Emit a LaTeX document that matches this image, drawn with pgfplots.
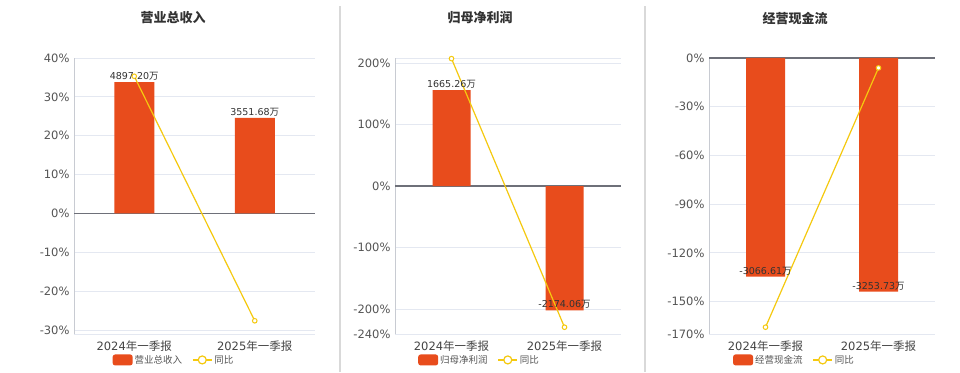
\documentclass[border=0pt]{standalone}
\usepackage{fontspec}
\setmainfont{DejaVu Sans}
\newfontfamily\cjk{Noto Sans CJK SC}
\usepackage{pgfplots}
\pgfplotsset{compat=1.18}
\definecolor{barc}{HTML}{E84C1C}
\definecolor{linec}{HTML}{F5C90F}
\definecolor{gridc}{HTML}{E4E8F1}
\definecolor{zeroc}{HTML}{6E7079}
\definecolor{tickc}{HTML}{555555}
\definecolor{ylinec}{HTML}{C8CBD2}
\definecolor{sepc}{HTML}{D9D9D9}
\newcommand\wan{{\cjk 万}}

\pgfplotsset{
 panel/.style={
   scale only axis, height=276pt, anchor=south west,
   xmin=-0.5, xmax=1.5, xtick={0,1},
   xticklabels={2024{\cjk 年一季报},2025{\cjk 年一季报}},
   major tick length=0pt,
   axis x line*=box, axis y line*=left,
   x axis line style={draw=gridc, line width=0.8pt, -},
   y axis line style={draw=ylinec, line width=0.8pt, -},
   ymajorgrids, grid style={draw=gridc, line width=0.8pt},
   extra y ticks={0}, extra y tick labels={},
   extra y tick style={grid style={draw=zeroc, line width=1.3pt}},
   yticklabel={\pgfmathprintnumber[assume math mode=true]{\tick}\%},
   yticklabel style={font=\fontsize{11.5}{13}\selectfont, text=tickc, xshift=-1pt},
   xticklabel style={font=\fontsize{11.5}{13}\selectfont, text=tickc!80!black, yshift=-3pt},
   clip=false,
   legend columns=2,
   legend style={draw=none, fill=none, font=\cjk\fontsize{9.5}{11}\selectfont, text=tickc, anchor=center,
      /tikz/every even column/.append style={column sep=8pt}},
   legend cell align=left,
 },
 barplot/.style={ybar, bar width=#1, fill=barc, draw=none,
   point meta=explicit symbolic, nodes near coords, nodes near coords align={vertical},
   every node near coord/.append style={font=\fontsize{9.5}{11}\selectfont, text=black!80, inner sep=1.5pt},
   legend image code/.code={\fill[barc, rounded corners=2.5pt] (0pt,-5.5pt) rectangle (20pt,5.5pt);}},
 lineplot/.style={color=linec, line width=1.2pt, mark=*, mark size=2.3pt,
   mark options={fill=white, draw=linec, line width=1pt},
   legend image code/.code={\draw[linec, line width=1.2pt] (0pt,0pt) -- (19pt,0pt); \draw[linec, line width=1.2pt, fill=white] (9.5pt,0pt) circle (4pt);}},
}

\begin{document}
\begin{tikzpicture}[x=1pt,y=1pt]
\useasboundingbox (0,0) rectangle (960,372);
\fill[white] (0,0) rectangle (960,372);
\draw[sepc, line width=1.5pt] (340,0) -- (340,366);
\draw[sepc, line width=1.5pt] (645,0) -- (645,366);
\node[font=\cjk\bfseries\fontsize{13}{15}\selectfont, text=black!80] at (173,354) {营业总收入};
\node[font=\cjk\bfseries\fontsize{13}{15}\selectfont, text=black!80] at (480,354) {归母净利润};
\node[font=\cjk\bfseries\fontsize{13}{15}\selectfont, text=black!80] at (795,354) {经营现金流};

\begin{axis}[panel, at={(74pt,38pt)}, width=241pt, ymin=-31, ymax=40, ytick={-30,-20,...,40},
  legend style={at={(0.415,-0.094)}}]
\addplot[barplot=40pt] coordinates {(0,33.8) [4897.20\wan] (1,24.6) [3551.68\wan]};
\addlegendentry{营业总收入}
\addplot[lineplot] coordinates {(0,35.3) (1,-27.6)};
\addlegendentry{同比}
\end{axis}

\begin{axis}[panel, at={(395pt,38pt)}, width=226pt, ymin=-240, ymax=208, ytick={-240,-200,-100,0,100,200},
  legend style={at={(0.374,-0.094)}}]
\addplot[barplot=38pt] coordinates {(0,156) [1665.26\wan] (1,-201.5) [-2174.06\wan]};
\addlegendentry{归母净利润}
\addplot[lineplot] coordinates {(0,207) (1,-229)};
\addlegendentry{同比}
\end{axis}

\begin{axis}[panel, at={(709pt,38pt)}, width=226pt, ymin=-170, ymax=0, ytick={-170,-150,-120,-90,-60,-30,0},
  axis x line*=bottom,
  legend style={at={(0.378,-0.094)}}]
\addplot[barplot=39pt] coordinates {(0,-134.6) [-3066.61\wan] (1,-143.9) [-3253.73\wan]};
\addlegendentry{经营现金流}
\addplot[lineplot] coordinates {(0,-165.8) (1,-6.1)};
\addlegendentry{同比}
\end{axis}
\end{tikzpicture}
\end{document}
